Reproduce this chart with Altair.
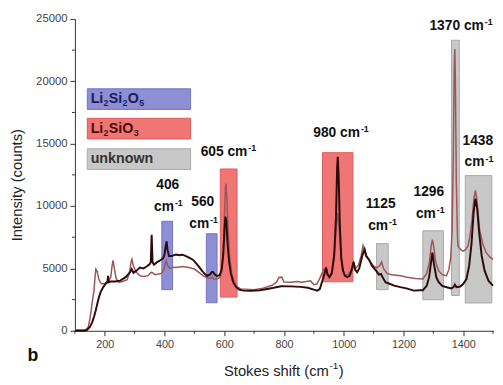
import altair as alt
import pandas as pd

# ---------------- data ----------------
dark_shift = [100, 130, 140, 150, 158, 164, 170, 175, 180, 186, 195, 202, 207, 209, 211, 213, 220, 235, 252, 270,
              285, 290, 296, 305, 318, 330, 340, 350, 354, 357, 360, 365, 375, 383, 395, 400, 404, 407, 410, 415,
              425, 438, 450, 460, 470, 482, 495, 504, 515, 526, 535, 543, 552, 558, 562, 567, 575, 585, 592, 597,
              601, 604, 607, 611, 616, 622, 630, 640, 650, 665, 690, 720, 757, 790, 823, 856, 880, 900, 911, 920,
              927, 935, 941, 946, 952, 960, 968, 974, 978, 980, 983, 987, 992, 998, 1004, 1012, 1020, 1027, 1033, 1038,
              1045, 1052, 1060, 1066, 1070, 1075, 1085, 1095, 1109, 1118, 1125, 1130, 1140, 1155, 1169, 1190, 1210, 1235, 1255, 1265,
              1278, 1286, 1292, 1297, 1302, 1310, 1318, 1330, 1345, 1360, 1368, 1372, 1378, 1390, 1400, 1411, 1420, 1428, 1435, 1441,
              1447, 1453, 1462, 1472, 1485, 1500]
dark_counts = [0, 0, 50, 300, 700, 1120, 1650, 2170, 2650, 3100, 3500, 3750, 3890, 3900, 4410, 3900, 3950, 3950, 4020, 4300,
               4700, 4940, 4650, 4800, 5070, 5000, 5150, 5330, 5500, 7700, 5500, 5300, 5500, 5600, 5800, 6100, 6800, 7170, 6500, 6000,
               6000, 6120, 6050, 6100, 6000, 5860, 5700, 5470, 5150, 4800, 4550, 4410, 4500, 4700, 4730, 4550, 4400, 4450, 5000, 6200,
               8200, 9150, 8800, 7000, 5600, 4600, 3900, 3500, 3300, 3220, 3200, 3250, 3410, 3570, 3560, 3520, 3450, 3300, 3220, 3350,
               3890, 4500, 5070, 4500, 4300, 4600, 6000, 9000, 13000, 13940, 12500, 8500, 5800, 4800, 4410, 4300, 4400, 4900, 5510, 4900,
               4700, 5000, 5800, 6300, 6520, 6000, 5700, 5200, 4800, 4500, 4550, 4300, 3890, 3750, 3620, 3500, 3400, 3220, 3250, 3250,
               3600, 4300, 5400, 6260, 5400, 4300, 3890, 3600, 3490, 3400, 3500, 3700, 3500, 3550, 3750, 4150, 5200, 7000, 9500, 10600,
               9800, 8000, 6000, 4800, 4000, 3620]

light_shift = [100, 135, 145, 153, 158, 164, 167, 170, 174, 180, 186, 191, 200, 210, 220, 225, 228, 232, 238, 246,
               260, 275, 283, 288, 291, 296, 305, 318, 330, 345, 355, 360, 368, 380, 389, 398, 403, 406, 410, 418,
               427, 438, 460, 482, 500, 515, 530, 543, 555, 560, 565, 575, 585, 592, 597, 601, 604, 606, 609, 613,
               618, 625, 635, 645, 655, 700, 730, 760, 775, 783, 793, 800, 823, 845, 860, 875, 889, 900, 910, 920,
               933, 940, 948, 955, 962, 970, 976, 980, 984, 990, 996, 1004, 1015, 1025, 1033, 1040, 1050, 1058, 1065, 1070,
               1078, 1090, 1100, 1110, 1120, 1127, 1133, 1145, 1160, 1191, 1212, 1240, 1265, 1278, 1287, 1293, 1297, 1301, 1308, 1318,
               1330, 1344, 1352, 1358, 1363, 1367, 1370, 1372, 1374, 1377, 1381, 1383, 1392, 1400, 1408, 1416, 1423, 1430, 1436, 1441,
               1446, 1455, 1465, 1477, 1490, 1500]
light_counts = [60, 60, 300, 1380, 2300, 3220, 4200, 4940, 4800, 4150, 3850, 3750, 3800, 3900, 4300, 5300, 5650, 5000, 4200, 3890,
                3950, 4100, 4700, 5500, 5730, 5200, 4700, 4410, 4350, 4420, 4680, 4650, 4500, 4550, 4600, 4900, 5400, 5600, 5250, 5000,
                5100, 5070, 5150, 5070, 4950, 4680, 4400, 4250, 4200, 4300, 4150, 4150, 4250, 4800, 6500, 9500, 11500, 11790, 10500, 8000,
                6000, 4600, 3800, 3500, 3360, 3300, 3420, 3650, 3900, 4280, 4300, 3900, 3890, 3950, 3900, 3950, 4000, 3700, 3750, 4200,
                4940, 4900, 4500, 4400, 4800, 6500, 8500, 9440, 8500, 6200, 4900, 4500, 4500, 4900, 5510, 5000, 5300, 6000, 6830, 6500,
                5900, 5500, 5200, 5050, 5200, 5510, 5000, 4600, 4500, 4410, 4300, 4200, 4150, 4600, 5500, 6800, 7310, 6800, 5500, 4800,
                4500, 4410, 4900, 5800, 8000, 14000, 21000, 22580, 20000, 12000, 7500, 6780, 6500, 6380, 6500, 6780, 7600, 9000, 10600, 11260,
                10500, 8100, 7000, 6260, 5900, 5730]

box_phase = ["Li2Si2O5", "Li2Si2O5", "Li2SiO3", "Li2SiO3", "unknown", "unknown", "unknown", "unknown"]
box_from = [391, 540, 587, 929, 1110, 1265, 1361, 1407]
box_to = [427, 576, 643, 1031, 1149, 1334, 1387, 1496]
box_bottom = [3300, 2250, 2700, 3930, 3300, 2490, 2830, 2230]
box_top = [8780, 7780, 12970, 14280, 6990, 8020, 23290, 12440]

# peak annotations: main text + superscript part
label_main = ["406", "cm", "560", "cm", "605 cm", "980 cm", "1125", "cm", "1296", "cm", "1370 cm", "1438", "cm"]
label_sup = ["", "-1", "", "-1", "-1", "-1", "", "-1", "", "-1", "-1", "", "-1"]
label_shift = [411, 413, 528, 531, 614, 991, 1125, 1130, 1285, 1290, 1393, 1449, 1453]
label_counts = [11650, 9940, 10330, 8530, 14340, 15840, 10150, 8410, 11100, 9360, 24410, 15210, 13490]

# legend entries as (text, subscript) runs
legend_runs = [
    [("Li", "2"), ("Si", "2"), ("O", "5")],
    [("Li", "2"), ("SiO", "3")],
    [("unknown", "")],
]
phase_domain = ["Li2Si2O5", "Li2SiO3", "unknown"]
phase_fill = ["#8e8ed4", "#f07676", "#c8c8c8"]
phase_edge = ["#7474c0", "#e05a5a", "#a8a8a8"]
legend_text_color = ["#1c1c5c", "#4a0c0c", "#333333"]

x_major = [200, 400, 600, 800, 1000, 1200, 1400]
x_minor = [100, 300, 500, 700, 900, 1100, 1300, 1500]
y_major = [0, 5000, 10000, 15000, 20000, 25000]
y_minor = [2500, 7500, 12500, 17500, 22500]

# ---------------- helpers ----------------
W, H = 425, 317
FONT = "Liberation Sans, Arial, DejaVu Sans"
BOLD_W = {"0": .556, "1": .556, "2": .556, "3": .556, "4": .556, "5": .556, "6": .556, "7": .556, "8": .556,
          "9": .556, " ": .278, "c": .556, "m": .889, "-": .333, "L": .611, "i": .278, "S": .667, "O": .778,
          "u": .611, "n": .611, "k": .556, "o": .611, "w": .778}
REG_W = {"S": .667, "t": .278, "o": .556, "k": .5, "e": .556, "s": .5, " ": .278, "h": .556, "i": .222,
         "f": .278, "(": .333, "c": .5, "m": .833, ")": .333, "-": .333, "1": .556}


def tw(s, size, bold=True):
    table = BOLD_W if bold else REG_W
    return sum(table.get(ch, .556) for ch in s) * size


one = pd.DataFrame({"k": [0]})
xs = alt.Scale(domain=[100, 1500], nice=False, zero=False)
ys = alt.Scale(domain=[0, 25000], nice=False, zero=True)

dark_df = pd.DataFrame({"shift": dark_shift, "counts": dark_counts})
light_df = pd.DataFrame({"shift": light_shift, "counts": light_counts})
box_df = pd.DataFrame({"phase": box_phase, "x1": box_from, "x2": box_to, "y1": box_bottom, "y2": box_top})

fill_scale = alt.Scale(domain=phase_domain, range=phase_fill)
edge_scale = alt.Scale(domain=phase_domain, range=phase_edge)

boxes = alt.Chart(box_df).mark_rect(strokeWidth=1).encode(
    x=alt.X("x1:Q", scale=xs,
            axis=alt.Axis(values=x_major, format="d", title=None, grid=False, tickSize=5, labelFontSize=11,
                          labelColor="#444444", labelFont=FONT, domainColor="#333333", tickColor="#333333",
                          labelPadding=3, labelFlush=False)),
    x2="x2:Q",
    y=alt.Y("y1:Q", scale=ys,
            axis=alt.Axis(values=y_major, format="d", title=None, grid=False, tickSize=5, labelFontSize=11.5,
                          labelColor="#444444", labelFont=FONT, domainColor="#333333", tickColor="#333333",
                          labelPadding=3)),
    y2="y2:Q",
    fill=alt.Fill("phase:N", scale=fill_scale, legend=None),
    stroke=alt.Stroke("phase:N", scale=edge_scale, legend=None),
)

light_line = alt.Chart(light_df).mark_line(color="#9c5656", strokeWidth=1.5).encode(
    x=alt.X("shift:Q", scale=xs), y=alt.Y("counts:Q", scale=ys), order="shift:Q")
dark_line = alt.Chart(dark_df).mark_line(color="#2e0a0a", strokeWidth=2).encode(
    x=alt.X("shift:Q", scale=xs), y=alt.Y("counts:Q", scale=ys), order="shift:Q")

xminor = alt.Chart(pd.DataFrame({"v": x_minor})).mark_rule(color="#333333", strokeWidth=1).encode(
    x=alt.X("v:Q", scale=xs), y=alt.value(H), y2=alt.value(H + 3))
yminor = alt.Chart(pd.DataFrame({"v": y_minor})).mark_rule(color="#333333", strokeWidth=1).encode(
    y=alt.Y("v:Q", scale=ys), x=alt.value(-3), x2=alt.value(0))

# peak labels (bold, centered, with superscript)
label_layers = []
MAIN, SUP = 14, 9
for m, s, sx, sy in zip(label_main, label_sup, label_shift, label_counts):
    wm = tw(m, MAIN)
    ws = tw(s, SUP) + (1 if s else 0)
    start = -(wm + ws) / 2
    row = pd.DataFrame({"shift": [sx], "counts": [sy]})
    enc = dict(x=alt.X("shift:Q", scale=xs), y=alt.Y("counts:Q", scale=ys))
    label_layers.append(alt.Chart(row).mark_text(font=FONT, fontSize=MAIN, fontWeight="bold", color="#111111",
                                                 align="left", baseline="middle", text=m, dx=start).encode(**enc))
    if s:
        label_layers.append(alt.Chart(row).mark_text(font=FONT, fontSize=SUP, fontWeight="bold", color="#111111",
                                                     align="left", baseline="middle", text=s,
                                                     dx=start + wm + 1, dy=-4).encode(**enc))

# custom legend (pixel placement)
leg_layers = []
leg_top = [71, 101, 132]
LEG, SUB = 14.5, 9
for i, runs in enumerate(legend_runs):
    leg_layers.append(
        alt.Chart(one).mark_rect(fill=phase_fill[i], stroke=phase_edge[i], strokeWidth=1).encode(
            x=alt.value(12.6), x2=alt.value(117.6), y=alt.value(leg_top[i]), y2=alt.value(leg_top[i] + 21)))
    xpos = 16.0
    ymid = leg_top[i] + 10.5
    for main, sub in runs:
        leg_layers.append(
            alt.Chart(one).mark_text(font=FONT, fontSize=LEG, fontWeight="bold", color=legend_text_color[i],
                                     align="left", baseline="middle", text=main).encode(
                x=alt.value(xpos), y=alt.value(ymid)))
        xpos += tw(main, LEG)
        if sub:
            leg_layers.append(
                alt.Chart(one).mark_text(font=FONT, fontSize=SUB, fontWeight="bold", color=legend_text_color[i],
                                         align="left", baseline="middle", text=sub).encode(
                    x=alt.value(xpos + 0.3), y=alt.value(ymid + 4.5)))
            xpos += tw(sub, SUB) + 0.6

# axis titles
ytitle = alt.Chart(one).mark_text(font=FONT, fontSize=15, color="#222222", angle=270,
                                  align="center", baseline="middle", text="Intensity (counts)").encode(
    x=alt.value(-58.7), y=alt.value(169))
xt_main, xt_sup, xt_end = "Stokes shift (cm", "-1", ")"
w1 = tw(xt_main, 15, False)
w2 = tw(xt_sup, 10, False) + 1
w3 = tw(xt_end, 15, False)
xt_start = 212.3 - (w1 + w2 + w3) / 2
xtitle = [
    alt.Chart(one).mark_text(font=FONT, fontSize=15, color="#222222", align="left", baseline="middle",
                             text=xt_main).encode(x=alt.value(xt_start), y=alt.value(357.5)),
    alt.Chart(one).mark_text(font=FONT, fontSize=10, color="#222222", align="left", baseline="middle",
                             text=xt_sup).encode(x=alt.value(xt_start + w1 + 0.5), y=alt.value(353)),
    alt.Chart(one).mark_text(font=FONT, fontSize=15, color="#222222", align="left", baseline="middle",
                             text=xt_end).encode(x=alt.value(xt_start + w1 + w2), y=alt.value(357.5)),
]
panel = alt.Chart(one).mark_text(font=FONT, fontSize=18, fontWeight="bold", color="#111111",
                                 align="center", baseline="middle", text="b").encode(
    x=alt.value(-42.7), y=alt.value(342.5))

chart = alt.layer(boxes, light_line, dark_line, xminor, yminor, *label_layers, *leg_layers, ytitle,
                  *xtitle, panel).properties(
    width=W, height=H,
    autosize=alt.AutoSizeParams(type="none"),
    padding={"left": 68, "top": 8, "right": 2, "bottom": 52},
).configure_view(stroke=None)

chart.save("out.html", embed_options={"renderer": "svg", "actions": False})
